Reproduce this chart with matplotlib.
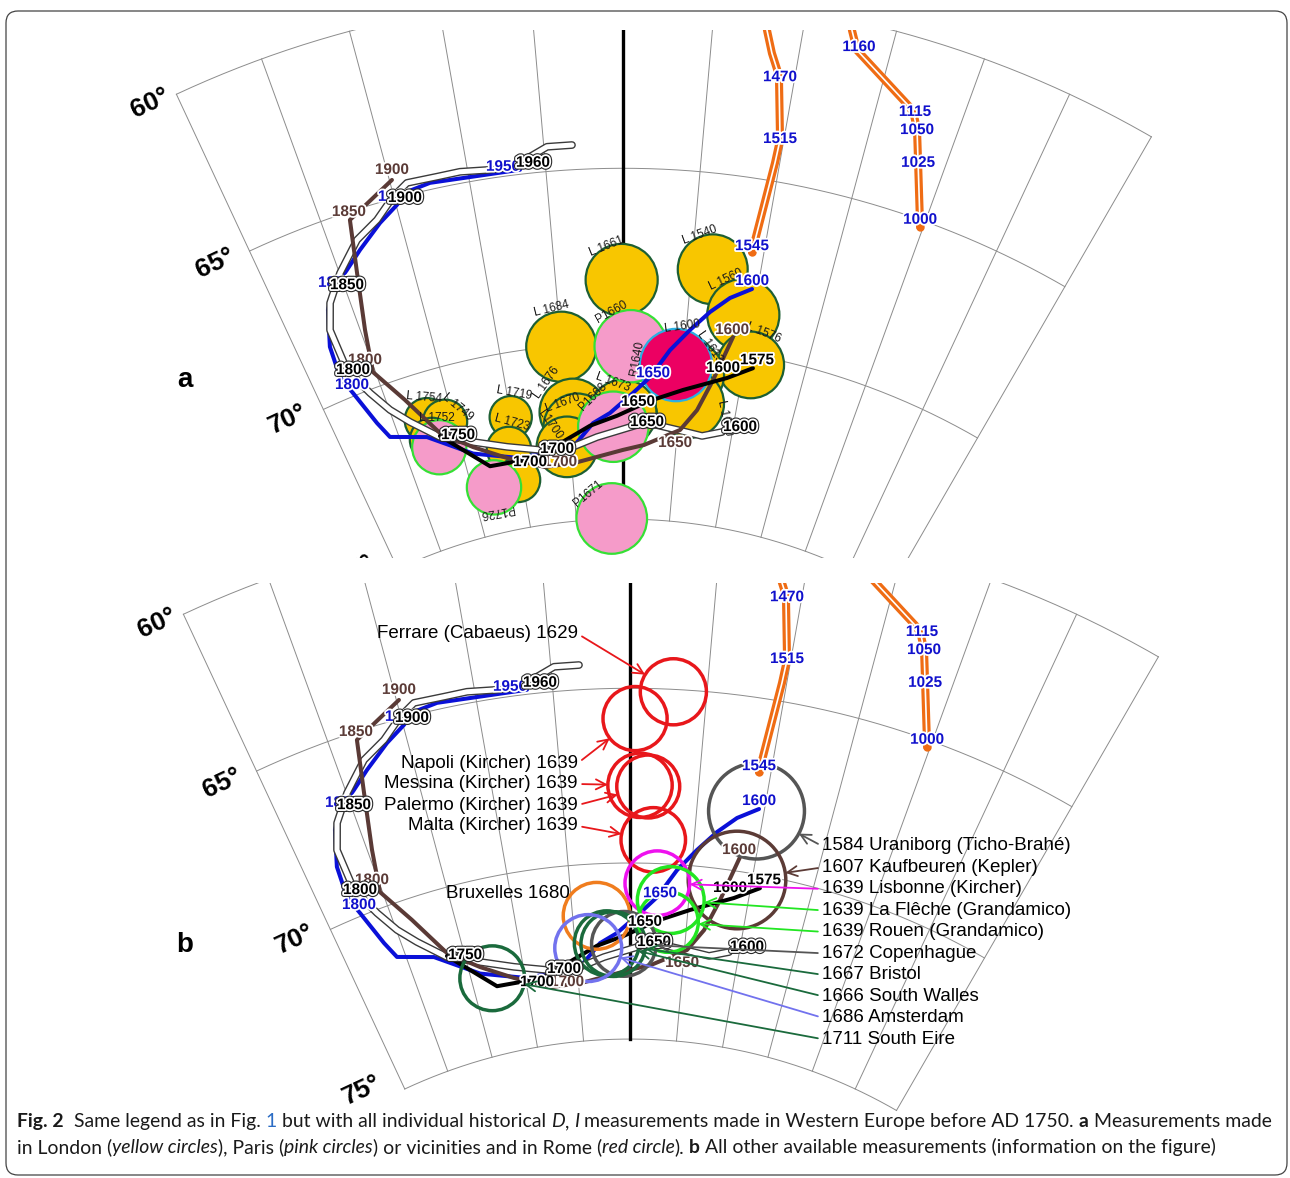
import numpy as np
import matplotlib
matplotlib.use("Agg")
import matplotlib.pyplot as plt
import matplotlib.patheffects as pe
from matplotlib.patches import Circle, FancyBboxPatch
from matplotlib.transforms import IdentityTransform

plt.rcParams["font.family"] = ["Liberation Sans", "DejaVu Sans"]

W, H = 1290, 1178
K = 4083.0          # equal-area scale, pixels per unit of sin(colatitude / 2)
CAP_FONT = ["Lato", "DejaVu Sans"]

# ---- reference curves (declination D, inclination I, degrees) ----
blue_D = [9.60, 8.08, 6.71, 5.30, 3.83, 2.29, 0.87, -1.17, -2.73, -4.72, -9.84, -14.06, -17.68, -20.75,
          -21.36, -22.28, -22.75, -22.57, -21.68, -20.83, -19.44, -18.16, -16.34, -14.94, -14.10, -12.52,
          -9.92, -6.66]
blue_I = [68.15, 68.50, 68.97, 69.54, 70.16, 70.96, 71.42, 71.99, 72.26, 72.90, 73.02, 72.62, 71.81, 71.46,
          70.96, 69.91, 69.35, 68.44, 67.44, 66.96, 66.56, 66.14, 65.57, 65.20, 64.91, 64.81, 64.87, 64.87]
blue_years = [("1600", 0, (0, 8)), ("1650", 5, (3, 4)), ("1800", 15, (-1, 8)),
              ("1850", 19, (2, 7)), ("1900", 23, (-2, 8)), ("1950", 27, (-17, 3))]

white_D = [9.07, 7.31, 5.34, 3.10, 1.55, -2.42, -5.01, -7.85, -10.85, -13.81, -16.57, -18.68, -19.94, -21.00,
           -22.03, -22.09, -21.36, -19.97, -18.14, -16.47, -15.06, -13.96, -12.00, -10.49, -8.77, -7.09,
           -4.80, -3.22]
white_I = [72.31, 72.50, 72.42, 72.31, 72.30, 72.66, 72.92, 72.88, 72.64, 72.30, 71.92, 71.25, 70.74, 70.09,
           69.24, 68.00, 67.28, 66.58, 65.84, 65.46, 64.95, 64.66, 64.68, 64.67, 64.75, 64.76, 64.29, 64.29]
white_years = [("1600", 0, (18, 5)), ("1650", 4, (7, 2)), ("1700", 7, (17, 1)), ("1750", 10, (18, 2)),
               ("1800", 14, (6, 0)), ("1850", 17, (7, -12)), ("1900", 20, (12, -1)), ("1960", 25, (20, 4))]

brown_D = [8.75, 7.63, 6.58, 5.24, 1.98, 0.00, -4.46, -7.59, -11.05, -13.92, -16.47, -18.49, -20.19,
           -19.66, -18.85, -18.17, -14.84]
brown_I = [69.59, 70.89, 71.79, 72.40, 72.89, 73.04, 73.34, 73.38, 72.95, 72.44, 71.81, 70.61, 69.56,
           68.35, 66.74, 65.23, 64.47]
brown_years = [("1600", 0, (-1, 7)), ("1650", 3, (-5, -13)), ("1700", 7, (15, 5)),
               ("1800", 12, (-8, 12)), ("1850", 15, (-1, 8)), ("1900", 16, (0, 10))]

black_D = [10.76, 8.77, 5.18, 2.37, -0.54, -3.02, -8.43, -12.79, -16.55]
black_I = [70.37, 70.77, 71.26, 71.63, 72.07, 72.33, 73.09, 73.08, 71.89]
black_years = [("1575", 0, (4, 8)), ("1600", 1, (-4, 10)), ("1650", 3, (-12, -1)), ("1700", 6, (-5, -4))]

# archeomagnetic curve segments
arch1_D = [7.76, 8.02, 8.48, 9.07, 9.77, 9.70, 9.16]
arch1_I = [60.15, 60.72, 61.36, 61.96, 63.80, 64.48, 67.11]
arch1_years = [("1470", 3, (1, -2)), ("1515", 4, (0, 1)), ("1545", 6, (0, 6))]
arch2_D = [12.29, 12.63, 13.14, 16.89, 17.25, 17.69, 18.36, 19.80]
arch2_I = [59.72, 60.28, 60.81, 62.01, 62.19, 62.58, 63.47, 65.19]
arch2_years = [("1160", 2, (2, 3)), ("1115", 4, (1, 3)), ("1050", 5, (0, 0)),
               ("1025", 6, (0, 0)), ("1000", 7, (0, 7))]

# ---- panel a: London (L), Paris (P) and Rome (R) measurements ----
circ_site = ["L"] * 18 + ["P"] * 5 + ["R"]
circ_name = ["L 1661", "L 1684", "L 1540", "L 1560", "L 1576", "L 1600", "L 1613", "L 1610", "L 1676",
             "L 1673", "L 1670", "L1700", "L 1719", "L 1723", "", "L 1754", "L 1749", "L 1752",
             "P1660", "P1668", "", "P1726", "P1671", "R1640"]
circ_D = [-0.10, -5.00, 6.54, 9.27, 10.53, 5.01, 5.65, 5.89, -4.47, 0.00, -4.21, -5.29, -10.03, -10.71,
          -10.40, -17.25, -15.77, -17.33, 0.62, -0.89, -16.90, -12.87, -1.21, 4.41]
circ_I = [68.20, 70.03, 67.75, 68.92, 70.29, 70.64, 70.82, 71.63, 71.91, 71.99, 72.34, 72.88, 71.83, 72.71,
          73.62, 71.35, 71.54, 71.93, 70.09, 72.38, 72.19, 73.69, 74.98, 70.57]
circ_a95 = [1.03, 1.00, 1.00, 1.03, 0.95, 0.97, 0.97, 0.97, 0.95, 0.95, 0.95, 0.86, 0.60, 0.63, 0.63,
            0.63, 0.63, 0.63, 1.03, 1.00, 0.77, 0.77, 1.00, 1.03]
# label placement around each circle: offset (px) and text angle
circ_lab_dx = [-15, -10, -13, -17, 13, -1, 20, 35, -26, -10, -14, -17, 3, 3, 0, -3, 13, 5, -19, -20, 0, 3, -23, -39]
circ_lab_dy = [33, 38, 34, 35, 32, 42, 28, -14, 29, 31, 24, 22, 24, 26, 0, 23, 15, 22, 34, 30, 0, -24, 25, 7]
circ_lab_rot = [22, 14, 20, 25, -22, 8, -55, -78, 55, -20, 20, -55, -10, -15, 0, -5, -40, 0, 29, 45, 0, 190, 40, 80]

# ---- panel b: other European measurements ----
other_name = ["Ferrare (Cabaeus) 1629", "Napoli (Kircher) 1639", "Messina (Kircher) 1639",
              "Palermo (Kircher) 1639", "Malta (Kircher) 1639", "Bruxelles 1680",
              "1584 Uraniborg (Ticho-Brahé)", "1607 Kaufbeuren (Kepler)", "1639 Lisbonne (Kircher)",
              "1639 La Flêche (Grandamico)", "1639 Rouen (Grandamico)", "1672 Copenhague", "1667 Bristol",
              "1666 South Walles", "1686 Amsterdam", "1711 South Eire"]
other_D = [2.82, 0.34, 0.73, 1.33, 1.82, -2.91, 9.44, 8.79, 2.27, 3.47, 3.35, -0.55, -1.52, -2.12, -3.83, -13.06]
other_I = [65.07, 65.87, 67.78, 67.81, 69.33, 71.48, 68.22, 70.25, 70.56, 71.02, 71.65, 72.30, 72.30,
           72.27, 72.38, 72.83]
other_a95 = [0.95, 0.92, 0.92, 0.90, 0.92, 0.95, 1.37, 1.39, 0.92, 0.95, 0.86, 0.92, 0.92, 0.92, 0.95, 0.92]
other_color = ["#e8171b"] * 5 + ["#f07d1e", "#555555", "#5c3b36", "#ee11ee", "#22e622", "#22e622",
                                 "#555555", "#1a6a3c", "#1a6a3c", "#7272ee", "#1a6a3c"]

grid_inc = [60, 65, 70, 75]
grid_dec = list(range(-25, 31, 5))

SITE_STYLE = {"L": ("#f8c600", "#1d5f33", 3.0), "P": ("#f59bc9", "#35e035", 3.2), "R": ("#ec0062", "#2ab0e2", 3.4)}
HALO = [pe.withStroke(linewidth=2.6, foreground="white")]
OUTLINED = [pe.Stroke(linewidth=4.2, foreground="#2a2a2a"), pe.Stroke(linewidth=2.6, foreground="white"), pe.Normal()]


def proj(d, i):
    d = np.radians(np.asarray(d, dtype=float))
    rho = K * np.sin(np.radians(90.0 - np.asarray(i, dtype=float)) / 2.0)
    return rho * np.sin(d), rho * np.cos(d)


def circ_radius(i, a95):
    return K * 0.5 * np.cos(np.radians(90.0 - i) / 2.0) * np.radians(a95)


def draw_grid(ax):
    for d in grid_dec:
        x, y = proj([d, d], [75, 60])
        ax.plot(x, y, color="#8c8c8c", lw=0.7, zorder=1)
    dd = np.linspace(grid_dec[0], grid_dec[-1], 300)
    for inc in grid_inc:
        x, y = proj(dd, np.full_like(dd, inc))
        ax.plot(x, y, color="#8c8c8c", lw=0.7, zorder=1)
    x, y = proj([0, 0], [75, 55])
    ax.plot(x, y, color="black", lw=2.4, zorder=1.5)
    offsets = [(-26, -9), (-34, -12), (-35, -10), (-43, -1)]
    for inc, off in zip(grid_inc, offsets):
        x, y = proj(grid_dec[0], inc)
        ax.annotate(f"{inc}°", (x, y), xytext=off, textcoords="offset pixels", ha="center", va="center",
                    rotation=25, fontsize=19, fontweight="bold", annotation_clip=False, clip_on=True, zorder=2)


def year_labels(ax, D, I, labels, color, effects):
    x, y = proj(D, I)
    for txt, k, off in labels:
        ax.annotate(txt, (x[k], y[k]), xytext=off, textcoords="offset pixels", ha="center", va="center",
                    fontsize=11, fontweight="bold", color=color, path_effects=effects, zorder=8,
                    annotation_clip=False, clip_on=True)


def draw_curves(ax):
    kw = dict(solid_joinstyle="round", solid_capstyle="round")
    for D, I, yrs in ((arch1_D, arch1_I, arch1_years), (arch2_D, arch2_I, arch2_years)):
        x, y = proj(D, I)
        ax.plot(x, y, color="#ef6c14", lw=5.8, zorder=2, **kw)
        ax.plot(x, y, color="white", lw=1.2, zorder=2.1, **kw)
        ax.plot(x[-1], y[-1], "o", color="#ef6c14", ms=5, zorder=2.2)
    x, y = proj(blue_D, blue_I)
    ax.plot(x, y, color="#0a10d8", lw=2.9, zorder=4, **kw)
    x, y = proj(white_D, white_I)
    ax.plot(x, y, color="#3a3a3a", lw=5.6, zorder=4.4, **kw)
    ax.plot(x, y, color="white", lw=3.6, zorder=4.5, **kw)
    x, y = proj(brown_D, brown_I)
    ax.plot(x, y, color="#5a3a36", lw=2.9, zorder=5, **kw)
    x, y = proj(black_D, black_I)
    ax.plot(x, y, color="black", lw=2.9, zorder=5.5, **kw)

    year_labels(ax, arch1_D, arch1_I, arch1_years, "#1010cc", HALO)
    year_labels(ax, arch2_D, arch2_I, arch2_years, "#1010cc", HALO)
    year_labels(ax, blue_D, blue_I, blue_years, "#1010cc", HALO)
    year_labels(ax, brown_D, brown_I, brown_years, "#5a3a36", HALO)
    year_labels(ax, black_D, black_I, black_years, "black", HALO)
    year_labels(ax, white_D, white_I, white_years, "black", OUTLINED)


def make_panel(rect, xlim, ylim):
    ax = fig.add_axes(rect)
    ax.set_xlim(*xlim)
    ax.set_ylim(*ylim)
    ax.axis("off")
    draw_grid(ax)
    draw_curves(ax)
    return ax


fig = plt.figure(figsize=(W / 100, H / 100), dpi=100)

# panel a : pixel rows 30-558, pole projected at (623, 1052)
ax_a = make_panel([0, (H - 558) / H, 1, 528 / H], (-623, W - 623), (1052 - 558, 1052 - 30))
# panel b : pixel rows 583-1115, pole projected at (630, 1572)
ax_b = make_panel([0, (H - 1115) / H, 1, 532 / H], (-630, W - 630), (1572 - 1115, 1572 - 583))

# London / Paris / Rome filled circles
for site, name, d, i, a, ldx, ldy, rot in zip(circ_site, circ_name, circ_D, circ_I, circ_a95,
                                              circ_lab_dx, circ_lab_dy, circ_lab_rot):
    fc, ec, z = SITE_STYLE[site]
    x, y = proj(d, i)
    ax_a.add_patch(Circle((x, y), circ_radius(i, a), facecolor=fc, edgecolor=ec, lw=1.6, zorder=z))
    if name:
        ax_a.annotate(name, (x, y), xytext=(ldx, ldy), textcoords="offset pixels", ha="center", va="center",
                      rotation=rot, fontsize=8.5, color="#1a1a1a", zorder=7, annotation_clip=False, clip_on=True)

# other sites: open circles with arrows
left_y = [634, 763, 784, 805, 826]
right_y = [846 + 21.45 * k for k in range(10)]
text_pos = [(578, yy) for yy in left_y] + [(570, 893)] + [(822, yy) for yy in right_y]
inv = ax_b.transData.inverted()
for k, (name, d, i, a, c) in enumerate(zip(other_name, other_D, other_I, other_a95, other_color)):
    x, y = proj(d, i)
    r = circ_radius(i, a)
    ax_b.add_patch(Circle((x, y), r, facecolor="none", edgecolor=c, lw=2.5, zorder=6))
    tx, ty = text_pos[k]
    left = k < 6
    if k == 5:
        ax_b.text(tx, H - ty, name, transform=IdentityTransform(), ha="right", va="center", fontsize=13.5, zorder=9)
        continue
    px, py = inv.transform((tx, H - ty))
    u = np.array([px - x, py - y])
    u /= np.hypot(*u)
    ax_b.annotate(name, (x + r * u[0], y + r * u[1]), xytext=(tx, H - ty), textcoords="figure pixels",
                  ha="right" if left else "left", va="center", fontsize=13.5, zorder=9, annotation_clip=False,
                  arrowprops=dict(arrowstyle="->", color=c, lw=1.3, shrinkA=1, shrinkB=0, mutation_scale=18,
                                  relpos=(1, 0.5) if left else (0, 0.5)))

fig.text(185 / W, 1 - 380 / H, "a", ha="center", va="center", fontsize=20, fontweight="bold")
fig.text(185 / W, 1 - 945 / H, "b", ha="center", va="center", fontsize=20, fontweight="bold")

# frame
fig.patches.append(FancyBboxPatch((6, 3), 1281, 1164, boxstyle="round,pad=0,rounding_size=12",
                                  transform=IdentityTransform(), facecolor="none", edgecolor="#444444", lw=0.9))

# caption
it = dict(fontstyle="italic")
bd = dict(fontweight="bold")
cap1 = [("Fig. 2", bd), ("  Same legend as in Fig. ", {}), ("1", dict(color="#2b6cc4")),
        (" but with all individual historical ", {}), ("D", it), (", ", {}), ("I", it),
        (" measurements made in Western Europe before AD 1750. ", {}), ("a", bd), (" Measurements made", {})]
cap2 = [("in London (", {}), ("yellow circles", it), ("), Paris (", {}), ("pink circles", it),
        (") or vicinities and in Rome (", {}), ("red circle", it), ("). ", {}), ("b", bd),
        (" All other available measurements (information on the figure)", {})]

renderer = fig.canvas.get_renderer()


def text_width(txt, size, kw):
    t = fig.text(0, 0, txt, fontsize=size, family=CAP_FONT, **kw)
    w = t.get_window_extent(renderer=renderer).width
    t.remove()
    return w


def line_pieces(pieces, size, x0=None, y=None):
    sp = text_width("x x", size, {}) - text_width("xx", size, {})
    x = 0 if x0 is None else x0
    for txt, kw in pieces:
        core = txt.strip(" ")
        lead = len(txt) - len(txt.lstrip(" "))
        trail = len(txt) - len(txt.rstrip(" "))
        x += lead * sp
        if x0 is not None:
            fig.text(x / W, y / H, core, fontsize=size, family=CAP_FONT, va="baseline", ha="left",
                     color=kw.get("color", "#1a1a1a"), **{k: v for k, v in kw.items() if k != "color"})
        x += text_width(core, size, kw) + trail * sp
    return x


size = 10 * 1256 / line_pieces(cap1, 10)
line_pieces(cap1, size, 17, H - 1127)
line_pieces(cap2, size, 17, H - 1153)

fig.savefig("out.png", dpi=100)
